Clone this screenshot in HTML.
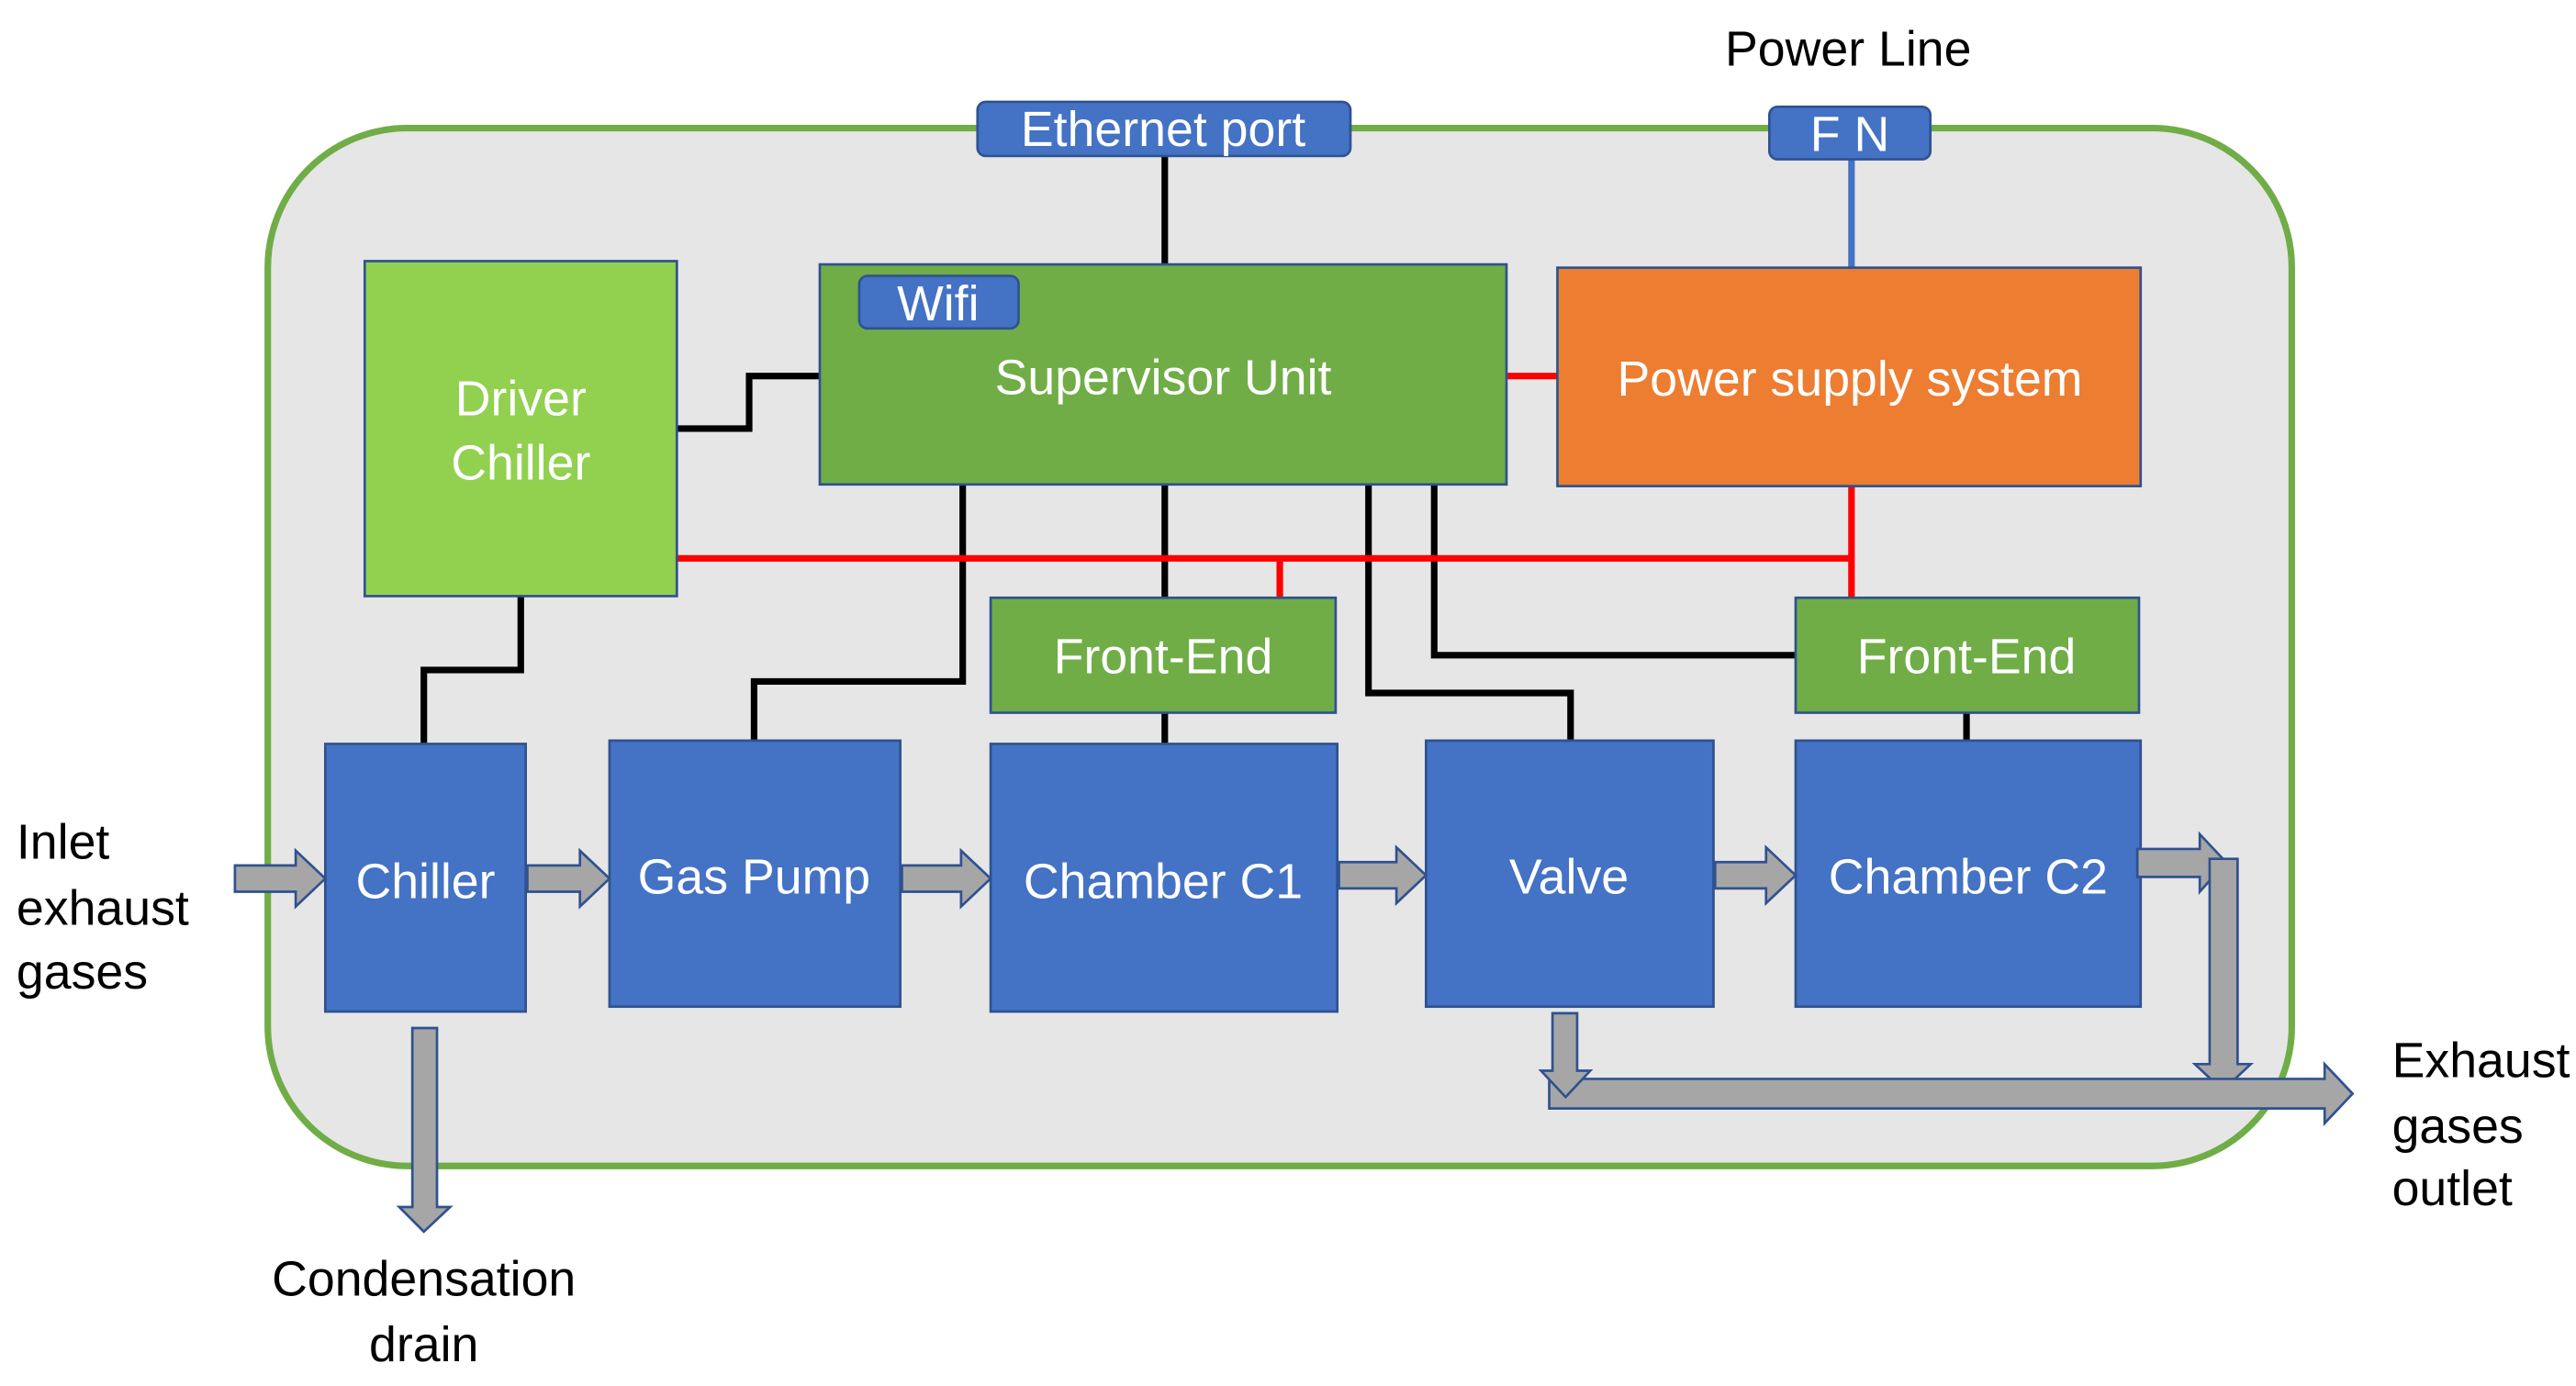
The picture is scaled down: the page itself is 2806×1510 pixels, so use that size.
<!DOCTYPE html>
<html><head><meta charset="utf-8"><style>html,body{margin:0;padding:0;background:#fff}svg{display:block}text{font-family:"Liberation Sans",sans-serif}</style></head>
<body>
<svg width="2806" height="1510" viewBox="0 0 1568 844" preserveAspectRatio="none" xmlns="http://www.w3.org/2000/svg">
<rect x="163" y="78" width="1232" height="632" rx="85" fill="#e6e6e6" stroke="#70ad47" stroke-width="4"/>
<g stroke="#000" stroke-width="4" fill="none">
<path d="M709 95V161"/>
<path d="M412 261H456V229H499"/>
<path d="M709 295V364M709 434V453"/>
<path d="M586 295V415H459V451"/>
<path d="M833 295V422H956V451"/>
<path d="M873 295V399H1093"/>
<path d="M1197 434V451"/>
<path d="M317 363V408H258V453"/>
</g>
<g stroke="#ff0000" stroke-width="4" fill="none">
<path d="M917 229H948"/>
<path d="M412 340H1127M1127 296V364M779 340V364"/>
</g>
<path d="M1127 97V163" stroke="#4472c4" stroke-width="4"/>
<g stroke="#2f528f" stroke-width="1.5">
<rect x="222" y="159" width="190" height="204" fill="#92d050"/>
<rect x="499" y="161" width="418" height="134" fill="#70ad47"/>
<rect x="948" y="163" width="355" height="133" fill="#ed7d31"/>
<rect x="603" y="364" width="210" height="70" fill="#70ad47"/>
<rect x="1093" y="364" width="209" height="70" fill="#70ad47"/>
<rect x="198" y="453" width="122" height="163" fill="#4472c4"/>
<rect x="371" y="451" width="177" height="162" fill="#4472c4"/>
<rect x="603" y="453" width="211" height="163" fill="#4472c4"/>
<rect x="868" y="451" width="175" height="162" fill="#4472c4"/>
<rect x="1093" y="451" width="210" height="162" fill="#4472c4"/>
<rect x="595" y="62" width="227" height="33" rx="5" fill="#4472c4"/>
<rect x="1077" y="65" width="98" height="32" rx="5" fill="#4472c4"/>
<rect x="523" y="168" width="97" height="32" rx="5" fill="#4472c4"/>
</g>
<g fill="#a6a6a6" stroke="#2f528f" stroke-width="1.5">
<path d="M143 527H180V518L198 535L180 552V543H143Z"/>
<path d="M321 527H353V518L371 535L353 552V543H321Z"/>
<path d="M549 527H585V518L603 535L585 552V543H549Z"/>
<path d="M815 525H850V516L868 533L850 550V541H815Z"/>
<path d="M1044 525H1075V516L1093 533L1075 550V541H1044Z"/>
<path d="M1301 517H1339V508L1355 525V525L1339 543V534H1301Z"/>
<path d="M1345 523H1362V648L1370 648L1353 664L1336 648L1345 648Z"/>
<path d="M943 657H1415V648L1432 666L1415 684V675H943Z"/>
<path d="M945 617H960V652L968 652L953 668L938 652L945 652Z"/>
<path d="M251 626H266V735L274 735L258 750L243 735L251 735Z"/>
</g>
<g fill="#fff" font-size="30" text-anchor="middle">
<text x="708" y="89">Ethernet port</text>
<text x="1126" y="92">F N</text>
<text x="571" y="195">Wifi</text>
<text x="708" y="240">Supervisor Unit</text>
<text x="1126" y="241">Power supply system</text>
<text x="317" y="253">Driver</text>
<text x="317" y="292">Chiller</text>
<text x="708" y="410">Front-End</text>
<text x="1197" y="410">Front-End</text>
<text x="259" y="547">Chiller</text>
<text x="459" y="544">Gas Pump</text>
<text x="708" y="547">Chamber C1</text>
<text x="955" y="544">Valve</text>
<text x="1198" y="544">Chamber C2</text>
</g>
<g fill="#000" font-size="30">
<text x="1125" y="40" text-anchor="middle">Power Line</text>
<text x="10" y="523">Inlet</text>
<text x="10" y="563">exhaust</text>
<text x="10" y="602">gases</text>
<text x="258" y="789" text-anchor="middle">Condensation</text>
<text x="258" y="829" text-anchor="middle">drain</text>
<text x="1456" y="656">Exhaust</text>
<text x="1456" y="696">gases</text>
<text x="1456" y="734">outlet</text>
</g>
</svg>
</body></html>
